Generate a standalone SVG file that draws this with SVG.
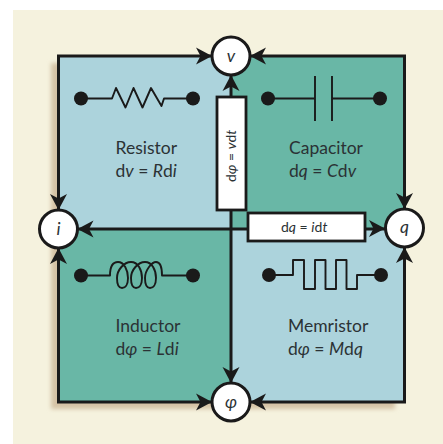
<svg xmlns="http://www.w3.org/2000/svg" width="443" height="444" viewBox="0 0 443 444">
<defs>
<filter id="sh" x="-10%" y="-10%" width="120%" height="120%"><feGaussianBlur stdDeviation="2"/></filter>
<path id="ah" d="M0 0 L-16 -8.500 L-11.500 0 L-16 8.500 Z" fill="#1a1a1a"/>
</defs>
<style>
.ln{fill:none;stroke:#1a1a1a;stroke-width:3;stroke-linejoin:miter}
.el{fill:none;stroke:#1a1a1a;stroke-width:1.9;stroke-linejoin:round}
.nd{fill:#fff;stroke:#1a1a1a;stroke-width:3}
.bx{fill:#fff;stroke:#1a1a1a;stroke-width:2.8}
.dot{fill:#1a1a1a}
text{font-family:"Lato","Noto Sans",sans-serif;fill:#2b3235;font-size:17.5px}
.it{font-style:italic}
.sm{font-size:14px}
</style>
<rect width="443" height="444" fill="#fff"/>
<rect x="13" y="10" width="430" height="434" fill="#f5f2de"/>
<rect x="51" y="63" width="344" height="346" fill="#d5c3a5" filter="url(#sh)"/>
<g id="quadrants">
<rect x="58.500" y="56" width="172.500" height="173" fill="#acd3dc"/>
<rect x="231" y="56" width="173.500" height="173" fill="#69b7a6"/>
<rect x="58.500" y="229" width="172.500" height="173" fill="#69b7a6"/>
<rect x="231" y="229" width="173.500" height="173" fill="#acd3dc"/>
</g>
<g id="connectors">
<path class="ln" d="M58.500 229 V56 H231 M404.500 228 V56 H231 M58.500 229 V402 H231 M404.500 228 V402 H231"/>
<path class="ln" d="M231 56 V402 M58.500 229 H231 M231 229 H404"/>
<use href="#ah" transform="translate(212,56)"/>
<use href="#ah" transform="translate(250,56) rotate(180)"/>
<use href="#ah" transform="translate(58.500,210) rotate(90)"/>
<use href="#ah" transform="translate(58.500,248) rotate(-90)"/>
<use href="#ah" transform="translate(404.500,209) rotate(90)"/>
<use href="#ah" transform="translate(404.500,247) rotate(-90)"/>
<use href="#ah" transform="translate(212,402)"/>
<use href="#ah" transform="translate(250,402) rotate(180)"/>
<use href="#ah" transform="translate(231,75) rotate(-90)"/>
<use href="#ah" transform="translate(231,383) rotate(90)"/>
<use href="#ah" transform="translate(77.500,229) rotate(180)"/>
<use href="#ah" transform="translate(385,228.500)"/>
</g>
<g id="resistor">
<path class="el" d="M81 98.500 H112 L116 88 L125.500 107.500 L133.500 88 L142.500 107.500 L151 88 L161.500 106 L164 98.500 H193"/>
<circle class="dot" cx="81" cy="98.500" r="7"/><circle class="dot" cx="193" cy="98.500" r="7"/>
<text x="115.500" y="154">Resistor</text>
<text x="115.500" y="177">d<tspan class="it">v</tspan> = <tspan class="it">R</tspan>d<tspan class="it">i</tspan></text>
</g>
<g id="capacitor">
<path class="el" d="M268 98.500 H315 M315 76 V121 M332 76 V121 M332 98.500 H380"/>
<circle class="dot" cx="268" cy="98.500" r="7"/><circle class="dot" cx="380" cy="98.500" r="7"/>
<text x="289" y="154">Capacitor</text>
<text x="289" y="177">d<tspan class="it">q</tspan> = <tspan class="it">C</tspan>d<tspan class="it">v</tspan></text>
</g>
<g id="inductor">
<path class="el" d="M81 275.500 H110 C110 265 114 262 118 262 C124 262 128 270 128 278 C128 285 125 288 122 288 C119 288 117 284 117 278 C117 270 124 262 131 262 C138 262 142 270 142 278 C142 285 139 288 136 288 C133 288 131 284 131 278 C131 270 138 262 145 262 C152 262 156 270 156 278 C156 285 153 288 150 288 C147 288 145 284 145 278 C145 270 152 262 156 262 C160 262 162 268 162 275.500 H193"/>
<circle class="dot" cx="81" cy="275.500" r="7"/><circle class="dot" cx="193" cy="275.500" r="7"/>
<text x="115.500" y="332">Inductor</text>
<text x="115.500" y="355">d<tspan class="it">φ</tspan> = <tspan class="it">L</tspan>d<tspan class="it">i</tspan></text>
</g>
<g id="memristor">
<path class="el" d="M269 275 H293 V260 H304 V289 H315 V260 H325.500 V289 H336 V260 H346.500 V289 H357 V275 H381"/>
<circle class="dot" cx="269" cy="275" r="7"/><circle class="dot" cx="381" cy="275" r="7"/>
<text x="288" y="332">Memristor</text>
<text x="288" y="355">d<tspan class="it">φ</tspan> = <tspan class="it">M</tspan>d<tspan class="it">q</tspan></text>
</g>
<g id="label-flux">
<rect class="bx" x="217" y="97" width="29" height="113"/>
<text class="sm" transform="translate(235.500,182) rotate(-90)">d<tspan class="it">φ</tspan> = <tspan class="it">v</tspan>d<tspan class="it">t</tspan></text>
</g>
<g id="label-charge">
<rect class="bx" x="248" y="213" width="117" height="28"/>
<text class="sm" x="281" y="232">d<tspan class="it">q</tspan> = <tspan class="it">i</tspan>d<tspan class="it">t</tspan></text>
</g>
<g id="node-v"><circle class="nd" cx="231" cy="56" r="19"/><text class="it" x="231" y="61.500" text-anchor="middle">v</text></g>
<g id="node-i"><circle class="nd" cx="58.500" cy="229" r="19"/><text class="it" x="58.500" y="235" text-anchor="middle">i</text></g>
<g id="node-q"><circle class="nd" cx="404.500" cy="228" r="19"/><text class="it" x="404.500" y="233" text-anchor="middle">q</text></g>
<g id="node-phi"><circle class="nd" cx="231" cy="402" r="19"/><text class="it" x="231" y="407.500" text-anchor="middle">φ</text></g>
</svg>
